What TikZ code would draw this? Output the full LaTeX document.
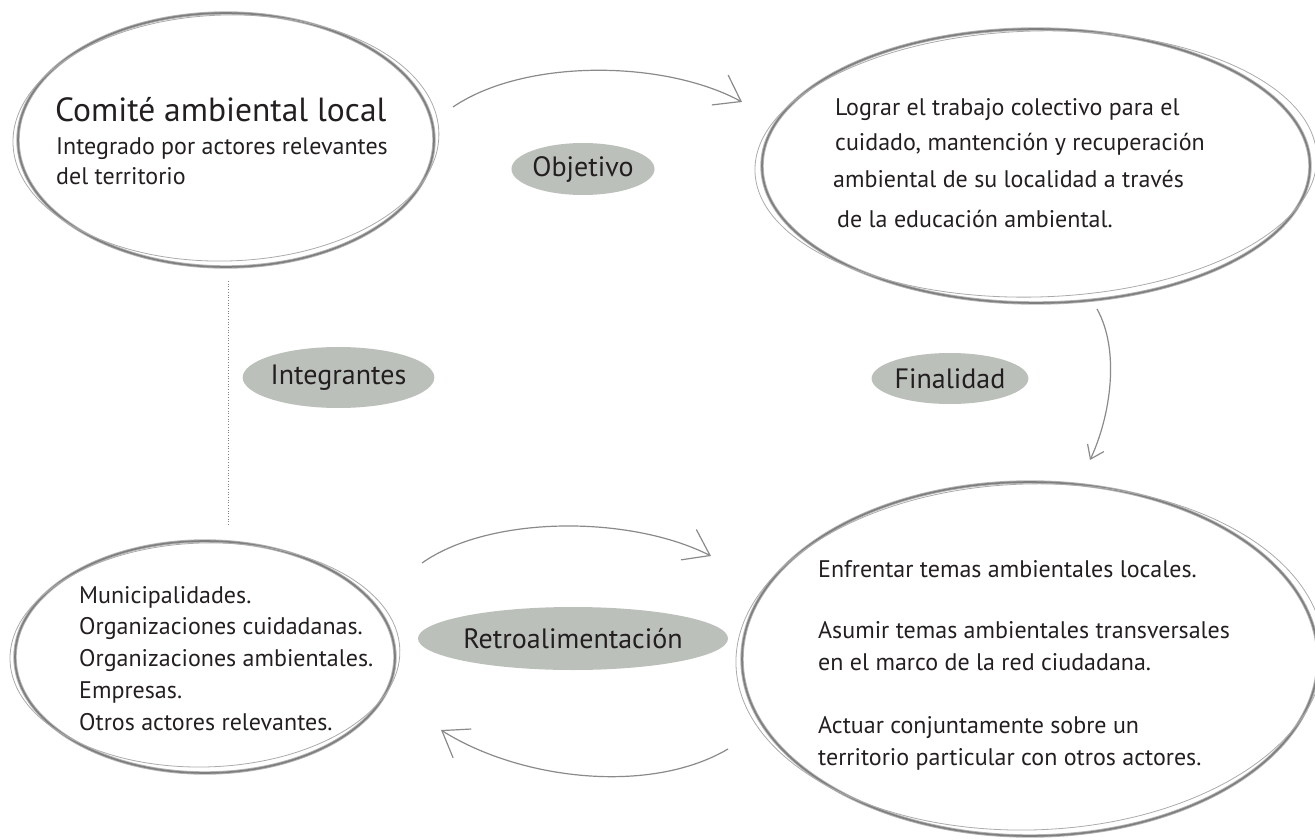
\documentclass[tikz,border=0pt]{standalone}
\usepackage{fontspec}
\setmainfont{PT Sans}
\usetikzlibrary{arrows.meta,shapes.geometric}
\definecolor{lblfill}{HTML}{BCC0BB}
\definecolor{ringc}{HTML}{7E7E7E}
\definecolor{ringhalo}{HTML}{B4B4B4}
\definecolor{ringl}{HTML}{ABABAB}
\definecolor{arrc}{HTML}{8A8A8A}
\definecolor{ink}{HTML}{231F20}
\begin{document}
\begin{tikzpicture}[x=1pt,y=-1pt,
  ringhal/.style={draw=ringhalo, line width=3.4pt},
  ring/.style={draw=ringc, line width=1.6pt},
  ringthin/.style={draw=ringl, line width=0.8pt},
  holder/.style={ellipse, draw=none, inner sep=0pt},
  lbl/.style={ellipse, fill=lblfill, inner sep=0pt, text=ink, font=\fontsize{28}{32}\selectfont},
  flow/.style={draw=arrc, line width=1.2pt, -{Straight Barb[length=24pt,width=34pt,line width=1.2pt]}},
  flowsm/.style={draw=arrc, line width=1.2pt, -{Straight Barb[length=12.5pt,width=18pt,line width=1.2pt]}},
  txt/.style={anchor=base west, inner sep=0pt, text=ink},
  big/.style={txt, font=\fontsize{33.5}{38}\selectfont},
  body/.style={txt, font=\fontsize{24}{30}\selectfont},
  dots/.style={draw=gray, line width=0.7pt, dotted}
]
\useasboundingbox (0,0) rectangle (1315,840);

% --- big ellipses ---
\node[holder, minimum width=416pt, minimum height=254pt] (comite) at (226,140) {};
\draw[ringhal] (comite.center) ellipse [x radius=208, y radius=127];
\draw[ring] (comite.center) ellipse [x radius=208, y radius=127];
\draw[ringthin, rotate around={1.5:(comite.center)}] ([shift={(0,-2)}]comite.center) ellipse [x radius=213, y radius=123];

\node[holder, minimum width=556pt, minimum height=274pt] (logro) at (1036,166) {};
\draw[ringhal] (logro.center) ellipse [x radius=274, y radius=137];
\draw[ring] (logro.center) ellipse [x radius=274, y radius=137];
\draw[ringthin, rotate around={1.5:(logro.center)}] ([shift={(0,-2)}]logro.center) ellipse [x radius=281, y radius=133];

\node[holder, minimum width=386pt, minimum height=232pt] (actores) at (205,657) {};
\draw[ringhal] (actores.center) ellipse [x radius=190, y radius=116];
\draw[ring] (actores.center) ellipse [x radius=190, y radius=116];
\draw[ringthin, rotate around={1.5:(actores.center)}] ([shift={(0,-2)}]actores.center) ellipse [x radius=195, y radius=112];

\node[holder, minimum width=580pt, minimum height=354pt] (final) at (1030,659) {};
\draw[ringhal] (final.center) ellipse [x radius=288, y radius=177];
\draw[ring] (final.center) ellipse [x radius=288, y radius=177];
\draw[ringthin, rotate around={1.5:(final.center)}] ([shift={(0,-2)}]final.center) ellipse [x radius=294, y radius=173];

% --- texts ---
\node[big]  (c1) at (55,122) {Comité ambiental local};
\node[body] (c2) at (56,154) {Integrado por actores relevantes};
\node[body] (c3) at (56,185) {del territorio};

\node[body] (l1) at (835,116) {Lograr el trabajo colectivo para el};
\node[body] (l2) at (835,151) {cuidado, mantención y recuperación};
\node[body] (l3) at (833,188) {ambiental de su localidad a través};
\node[body] (l4) at (837,227) {de la educación ambiental.};

\node[body] (a1) at (79,603) {Municipalidades.};
\node[body] (a2) at (79,634.5) {Organizaciones cuidadanas.};
\node[body] (a3) at (79,666) {Organizaciones ambientales.};
\node[body] (a4) at (79,698) {Empresas.};
\node[body] (a5) at (79,730) {Otros actores relevantes.};

\node[body] (f1) at (818,577) {Enfrentar temas ambientales locales.};
\node[body] (f2) at (818,638) {Asumir temas ambientales transversales};
\node[body] (f3) at (818,670) {en el marco de la red ciudadana.};
\node[body] (f4) at (818,733) {Actuar conjuntamente sobre un};
\node[body] (f5) at (818,765) {territorio particular con otros actores.};

% --- labels ---
\node[lbl, minimum width=120pt, minimum height=52pt] (obj) at (583,169) {Objetivo};
\node[lbl, minimum width=187pt, minimum height=61pt] (integ) at (338.5,377.5) {Integrantes};
\node[lbl, minimum width=133pt, minimum height=51pt] (fin) at (950,378.5) {Finalidad};
\node[lbl, minimum width=270pt, minimum height=63pt] (retro) at (573,638.5) {Retroalimentación};

% --- connector ends ---
\coordinate (o1) at (453,107);
\coordinate (o2) at (742,102);
\coordinate (fi1) at (1097,309);
\coordinate (fi2) at (1090,460);
\coordinate (r1) at (422,563);
\coordinate (r2) at (711,556);
\coordinate (b1) at (728,749);
\coordinate (b2) at (441,730);
\coordinate (d1) at (228,281);
\coordinate (d2) at (228,526);

% --- connectors ---
\draw[flow] (o1) .. controls (525,58) and (665,60) .. (o2);
\draw[flowsm] (fi1) .. controls (1120,350) and (1111,415) .. (fi2);
\draw[flow] (r1) .. controls (490,515) and (630,515) .. (r2);
\draw[flow] (b1) .. controls (650,795) and (520,780) .. (b2);
\draw[dots] (d1) -- (d2);
\end{tikzpicture}
\end{document}
